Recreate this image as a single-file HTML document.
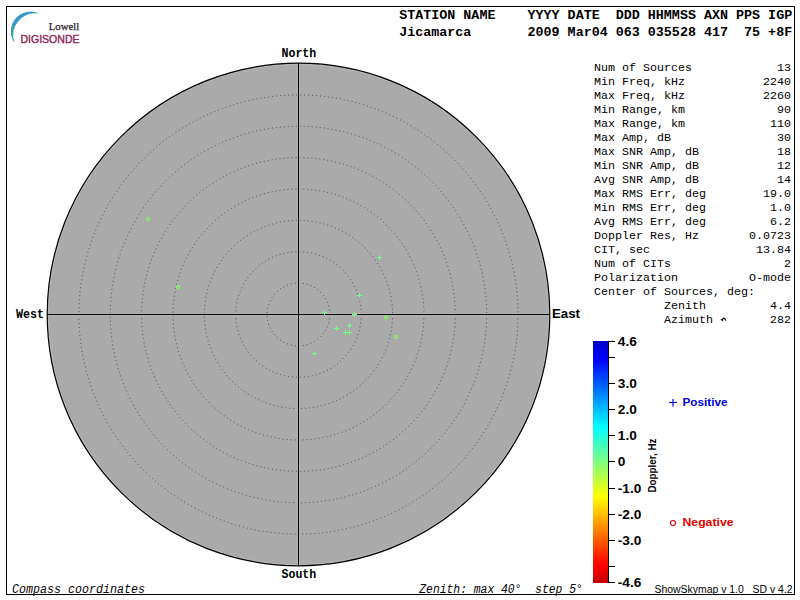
<!DOCTYPE html>
<html><head><meta charset="utf-8">
<style>
html,body{margin:0;padding:0;background:#fff;width:800px;height:600px;overflow:hidden}
svg{display:block}
.m{font-family:"Liberation Mono",monospace}
.s{font-family:"Liberation Sans",sans-serif}
.se{font-family:"Liberation Serif",serif}
text{white-space:pre}
</style></head><body>
<svg width="800" height="600" viewBox="0 0 800 600" xml:space="preserve">
<defs>
<linearGradient id="jet" x1="0" y1="0" x2="0" y2="1">
<stop offset="0" stop-color="#0000c8"/>
<stop offset="0.075" stop-color="#0000ff"/>
<stop offset="0.357" stop-color="#00ffff"/>
<stop offset="0.5" stop-color="#80ff80"/>
<stop offset="0.643" stop-color="#ffff00"/>
<stop offset="0.925" stop-color="#ff0000"/>
<stop offset="1" stop-color="#c00000"/>
</linearGradient>
</defs>
<rect x="0" y="0" width="800" height="600" fill="#fff"/>
<!-- frame -->
<rect x="6.5" y="6.5" width="788" height="588" fill="none" stroke="#000" stroke-width="1"/>

<!-- logo -->
<path d="M39.3,13.6 A19.7,19.7 0 0 0 14.6,42.8 A22,22 0 0 1 39.3,13.6 Z" fill="#3a9ac2"/>
<text class="se" x="48.7" y="30.3" font-size="11" fill="#2a2028" stroke="#2a2028" stroke-width="0.25" textLength="30.5" lengthAdjust="spacingAndGlyphs">Lowell</text>
<text class="s" x="20.5" y="43" font-size="10.8" fill="#922658" stroke="#922658" stroke-width="0.4" textLength="59" lengthAdjust="spacingAndGlyphs">DIGISONDE</text>

<!-- header -->
<text class="m" x="399.2" y="19" font-size="13.6" font-weight="bold" textLength="393" lengthAdjust="spacingAndGlyphs">STATION NAME    YYYY DATE  DDD HHMMSS AXN PPS IGP</text>
<text class="m" x="399.2" y="36" font-size="13.6" font-weight="bold" textLength="393" lengthAdjust="spacingAndGlyphs">Jicamarca       2009 Mar04 063 035528 417  75 +8F</text>

<!-- plot -->
<circle cx="298.5" cy="314.5" r="251.3" fill="#aaaaaa"/>
<circle cx="298.5" cy="314.5" r="250.2" fill="none" stroke="#b8b8b8" stroke-width="1"/>
<circle cx="298.5" cy="314.5" r="251.3" fill="none" stroke="#000" stroke-width="1.2"/>
<g fill="none" stroke="#484848" stroke-width="1" stroke-dasharray="1 3">
<circle cx="298.5" cy="314.5" r="31.4"/>
<circle cx="298.5" cy="314.5" r="62.75"/>
<circle cx="298.5" cy="314.5" r="94.1"/>
<circle cx="298.5" cy="314.5" r="125.5"/>
<circle cx="298.5" cy="314.5" r="156.9"/>
<circle cx="298.5" cy="314.5" r="188.25"/>
<circle cx="298.5" cy="314.5" r="219.6"/>
</g>
<g stroke="#b4b4b4" stroke-width="1">
<line x1="49" y1="313.5" x2="548" y2="313.5"/>
<line x1="49" y1="315.5" x2="548" y2="315.5"/>
<line x1="297.5" y1="65" x2="297.5" y2="564"/>
<line x1="299.5" y1="65" x2="299.5" y2="564"/>
</g>
<g stroke="#000" stroke-width="1">
<line x1="47" y1="314.5" x2="550" y2="314.5"/>
<line x1="298.5" y1="63" x2="298.5" y2="566"/>
</g>

<!-- markers -->
<g stroke="#70ff80" stroke-width="1" fill="none">
<path d="M357,295.5h5M359.5,293v5"/>
<path d="M322,312.5h5M324.5,310v5"/>
<path d="M352,314.5h5M354.5,312v5"/>
<path d="M347,325.5h5M349.5,323v5"/>
<path d="M334,328.5h5M336.5,326v5"/>
<path d="M343,332.5h5M345.5,330v5"/>
<path d="M347,332.5h5M349.5,330v5"/>
<path d="M312,353.5h5M314.5,351v5"/>
<path d="M377,257.5h5M379.5,255v5"/>
</g>
<g stroke="#80ff58" stroke-width="1.1" fill="none">
<circle cx="148" cy="219" r="1.5"/>
<circle cx="178" cy="287" r="1.5"/>
<circle cx="386" cy="317.5" r="1.5"/>
<circle cx="396" cy="337" r="1.5"/>
</g>

<!-- compass labels -->
<text class="m" x="281.5" y="57" font-size="12.5" font-weight="bold" textLength="34.8" lengthAdjust="spacingAndGlyphs">North</text>
<text class="m" x="281.5" y="578" font-size="12.5" font-weight="bold" textLength="34.8" lengthAdjust="spacingAndGlyphs">South</text>
<text class="m" x="16" y="318" font-size="12.5" font-weight="bold" textLength="28" lengthAdjust="spacingAndGlyphs">West</text>
<text class="s" x="552" y="318" font-size="12.5" font-weight="bold" textLength="28" lengthAdjust="spacingAndGlyphs">East</text>

<!-- stats -->
<g class="m" font-size="11.67" fill="#000">
<text x="594" y="71">Num of Sources</text><text x="791" y="71" text-anchor="end">13</text>
<text x="594" y="85">Min Freq, kHz</text><text x="791" y="85" text-anchor="end">2240</text>
<text x="594" y="99">Max Freq, kHz</text><text x="791" y="99" text-anchor="end">2260</text>
<text x="594" y="113">Min Range, km</text><text x="791" y="113" text-anchor="end">90</text>
<text x="594" y="127">Max Range, km</text><text x="791" y="127" text-anchor="end">110</text>
<text x="594" y="141">Max Amp, dB</text><text x="791" y="141" text-anchor="end">30</text>
<text x="594" y="155">Max SNR Amp, dB</text><text x="791" y="155" text-anchor="end">18</text>
<text x="594" y="169">Min SNR Amp, dB</text><text x="791" y="169" text-anchor="end">12</text>
<text x="594" y="183">Avg SNR Amp, dB</text><text x="791" y="183" text-anchor="end">14</text>
<text x="594" y="197">Max RMS Err, deg</text><text x="791" y="197" text-anchor="end">19.0</text>
<text x="594" y="211">Min RMS Err, deg</text><text x="791" y="211" text-anchor="end">1.0</text>
<text x="594" y="225">Avg RMS Err, deg</text><text x="791" y="225" text-anchor="end">6.2</text>
<text x="594" y="239">Doppler Res, Hz</text><text x="791" y="239" text-anchor="end">0.0723</text>
<text x="594" y="253">CIT, sec</text><text x="791" y="253" text-anchor="end">13.84</text>
<text x="594" y="267">Num of CITs</text><text x="791" y="267" text-anchor="end">2</text>
<text x="594" y="281">Polarization</text><text x="791" y="281" text-anchor="end">O-mode</text>
<text x="594" y="295">Center of Sources, deg:</text>
<text x="664" y="309">Zenith</text><text x="791" y="309" text-anchor="end">4.4</text>
<text x="664" y="323">Azimuth</text><text x="791" y="323" text-anchor="end">282</text>
</g>
<path d="M722.3,320 Q723.6,316 725.8,320.6" stroke="#000" stroke-width="1.1" fill="none"/><path d="M720.3,319.2 L723.4,319.3 L722.4,321.4 Z" fill="#000"/>

<!-- colorbar -->
<rect x="593" y="341" width="15" height="242" fill="url(#jet)"/>
<g stroke="#000" stroke-width="1">
<line x1="608.5" y1="341" x2="608.5" y2="583"/>
<line x1="608" y1="341.5" x2="615" y2="341.5"/>
<line x1="608" y1="357.5" x2="615" y2="357.5"/>
<line x1="608" y1="383.5" x2="615" y2="383.5"/>
<line x1="608" y1="409.5" x2="615" y2="409.5"/>
<line x1="608" y1="435.5" x2="615" y2="435.5"/>
<line x1="608" y1="461.5" x2="615" y2="461.5"/>
<line x1="608" y1="488.5" x2="615" y2="488.5"/>
<line x1="608" y1="514.5" x2="615" y2="514.5"/>
<line x1="608" y1="540.5" x2="615" y2="540.5"/>
<line x1="608" y1="566.5" x2="615" y2="566.5"/>
<line x1="608" y1="582.5" x2="615" y2="582.5"/>
</g>
<g class="s" font-size="12" font-weight="bold" transform="translate(617.8,0) scale(1.14,1)">
<text x="0" y="346.0">4.6</text>
<text x="0" y="388.0">3.0</text>
<text x="0" y="414.0">2.0</text>
<text x="0" y="440.0">1.0</text>
<text x="0" y="466.0">0</text>
<text x="0" y="493.0">-1.0</text>
<text x="0" y="519.0">-2.0</text>
<text x="0" y="545.0">-3.0</text>
<text x="0" y="587.0">-4.6</text>
</g>
<text class="s" font-size="10.5" font-weight="bold" transform="translate(656.2,492.5) rotate(-90)" textLength="54" lengthAdjust="spacingAndGlyphs">Doppler, Hz</text>

<!-- legend -->
<path d="M669,402.5h8M673,399v7.5" stroke="#0000e0" stroke-width="1.2" fill="none"/>
<text class="s" x="682.5" y="406" font-size="11" font-weight="bold" fill="#0000e0" textLength="45" lengthAdjust="spacingAndGlyphs">Positive</text>
<circle cx="673" cy="523" r="2.5" stroke="#e00000" stroke-width="1.1" fill="none"/>
<text class="s" x="682.5" y="526" font-size="11" font-weight="bold" fill="#e00000" textLength="51" lengthAdjust="spacingAndGlyphs">Negative</text>

<!-- footer -->
<text class="m" x="12" y="593" font-size="12" font-style="italic" textLength="133" lengthAdjust="spacingAndGlyphs">Compass coordinates</text>
<text class="m" x="419.3" y="593" font-size="12" font-style="italic" textLength="163.5" lengthAdjust="spacingAndGlyphs">Zenith: max 40°  step 5°</text>
<text class="s" x="654.5" y="593" font-size="10" textLength="138" lengthAdjust="spacingAndGlyphs">ShowSkymap v 1.0   SD v 4.2</text>
</svg>
</body></html>
